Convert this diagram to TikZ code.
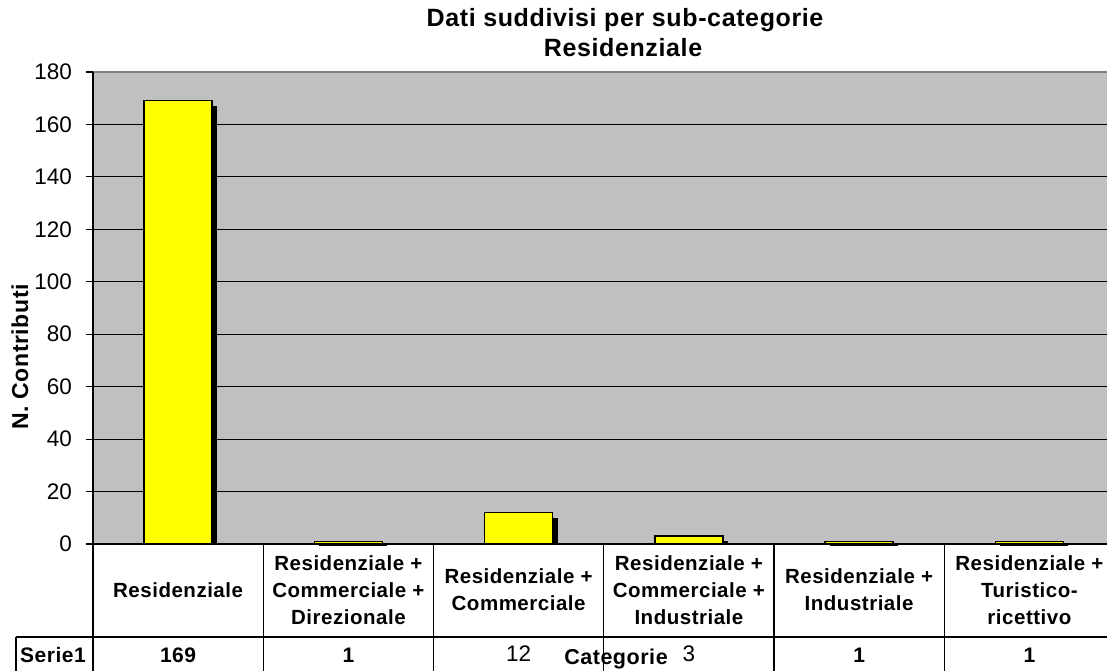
\documentclass[tikz,border=0pt]{standalone}
\usepackage{fontspec}
\setmainfont{Liberation Sans}
\newfontfamily\spaced{Liberation Sans}[LetterSpace=2.5]
\definecolor{plotgray}{HTML}{C0C0C0}
\definecolor{framegray}{HTML}{808080}
\definecolor{baryellow}{HTML}{FFFF00}
\begin{document}
\begin{tikzpicture}[x=1pt,y=-1pt,
  ticklbl/.style={anchor=east,inner sep=0pt,font=\fontsize{22.5}{26}\selectfont},
  catlbl/.style={align=center,inner sep=0pt,font=\spaced\bfseries\fontsize{20.5}{26.7}\selectfont},
  vallbl/.style={inner sep=0pt,font=\spaced\bfseries\fontsize{21}{24}\selectfont},
  valreg/.style={inner sep=0pt,font=\fontsize{22.5}{26}\selectfont},
  titlelbl/.style={inner sep=0pt,font=\spaced\bfseries\fontsize{25}{30}\selectfont},
  gridln/.style={black,line width=0.9pt},
  tableln/.style={black,line width=2.2pt},
  colln/.style={black,line width=1.4pt},
  barbox/.style={fill=baryellow,draw=black,line width=1.3pt},
  barshadow/.style={fill=black}]
\useasboundingbox (0,0) rectangle (1107,671);
\clip (0,0) rectangle (1107,671);
% plot area
\fill[plotgray] (93,72) rectangle (1116,544);
\foreach \v in {20,40,...,160} {
  \draw[gridln] (93,{544-\v*2.6222}) -- (1116,{544-\v*2.6222});
}
\draw[framegray,line width=2pt] (93,72) -- (1116,72);
% ticks and labels
\foreach \v in {0,20,...,180} {
  \draw[black,line width=1.2pt] (86,{544-\v*2.6222}) -- (93,{544-\v*2.6222});
  \node[ticklbl] (t\v) at (72,{544-\v*2.6222}) {\v};
}
% bars
\foreach \i/\val in {0/169,1/1,2/12,3/3,4/1,5/1} {
  \pgfmathsetmacro{\cx}{93+170.25*(\i+0.5)}
  \pgfmathsetmacro{\top}{544-\val*2.6222}
  \fill[barshadow] ({\cx-34+5},{\top+5}) rectangle ({\cx+34+5},544);
  \draw[barbox] ({\cx-34},\top) rectangle ({\cx+34},544);
}
% axis
\draw[black,line width=1.5pt] (93,72) -- (93,671);
% table
\draw[tableln] (93,544) -- (1116,544);
\draw[tableln] (16,637) -- (1116,637);
\foreach \x in {263.25,433.5,603.75,774,944.25} {
  \draw[colln] (\x,544) -- (\x,671);
}
\draw[colln] (16,637) -- (16,671);
% category labels
\node[catlbl] (c1) at (178.1,590) {Residenziale};
\node[catlbl] (c2) at (348.4,590) {Residenziale +\\Commerciale +\\Direzionale};
\node[catlbl] (c3) at (518.6,590) {Residenziale +\\Commerciale};
\node[catlbl] (c4) at (688.9,590) {Residenziale +\\Commerciale +\\Industriale};
\node[catlbl] (c5) at (859.1,590) {Residenziale +\\Industriale};
\node[catlbl] (c6) at (1029.4,590) {Residenziale +\\Turistico-\\ricettivo};
% values
\node[vallbl,anchor=west] (serie) at (20,655) {Serie1};
\node[vallbl] (v1) at (178.1,655) {169};
\node[vallbl] (v2) at (348.4,655) {1};
\node[valreg] (v3) at (518.6,654) {12};
\node[valreg] (v4) at (688.9,654) {3};
\node[vallbl] (v5) at (859.1,655) {1};
\node[vallbl] (v6) at (1029.4,655) {1};
% axis titles
\node[inner sep=0pt,font=\spaced\bfseries\fontsize{21.5}{24}\selectfont] (xt) at (616,659) {Categorie};
\node[inner sep=0pt,rotate=90,font=\spaced\bfseries\fontsize{23}{26}\selectfont] (yt) at (20,357) {N. Contributi};
% title
\node[titlelbl] (ti1) at (625,20) {Dati suddivisi per sub-categorie};
\node[titlelbl] (ti2) at (623,48) {Residenziale};
\end{tikzpicture}
\end{document}
